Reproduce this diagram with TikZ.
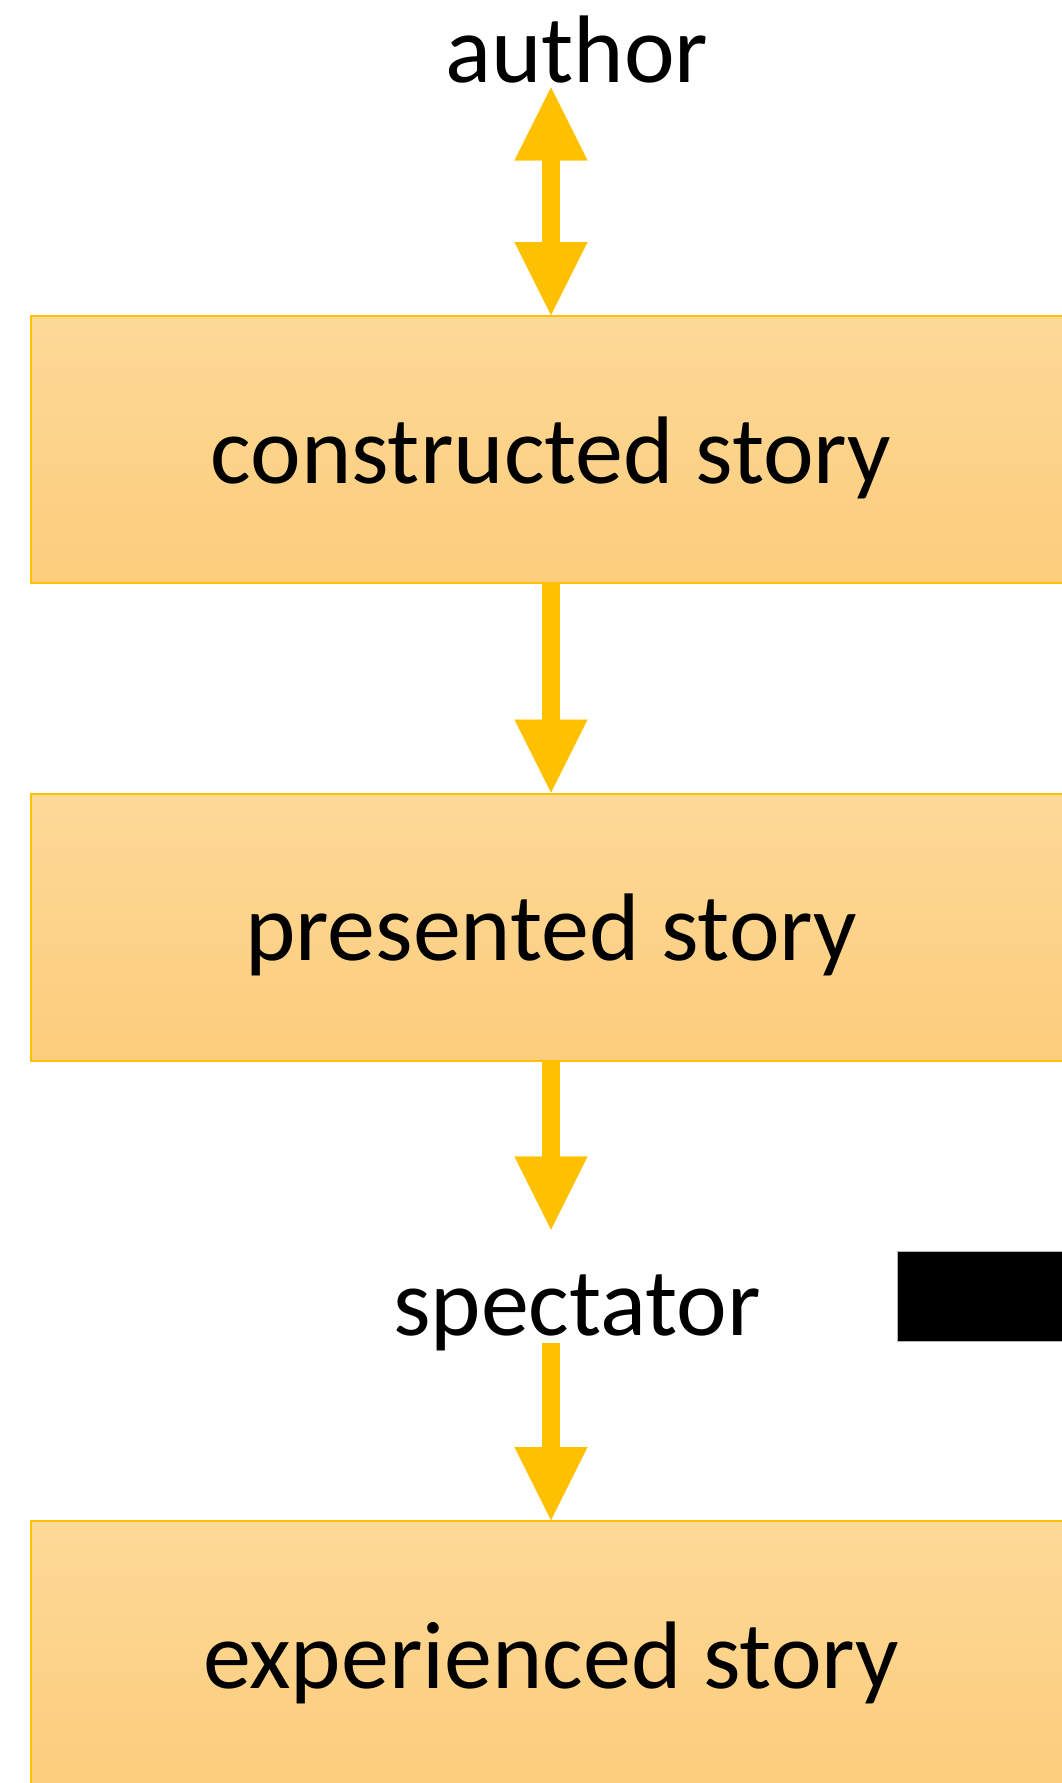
\documentclass[tikz,border=0pt]{standalone}
\usepackage{fontspec}
\setmainfont{Carlito}
\usepackage{xcolor}
\usepackage{tikz}
\usetikzlibrary{arrows.meta, positioning}

\definecolor{gold}{HTML}{FFC000}
\definecolor{boxtop}{HTML}{FDD998}
\definecolor{boxbottom}{HTML}{FCCD7C}

\tikzset{
  storybox/.style={draw=gold, line width=1pt, top color=boxtop, bottom color=boxbottom,
    minimum width=520pt, minimum height=133.5pt, inner sep=0pt,
    text height=40pt, text depth=6.5pt},
  actor/.style={inner sep=0pt, anchor=base},
  flow/.style={draw=gold, line width=9pt,
    -{Triangle[length=36.5pt, width=36.5pt, line width=0.1pt, fill=gold]}},
  twoway/.style={draw=gold, line width=9pt,
    {Triangle[length=36.5pt, width=36.5pt, line width=0.1pt, fill=gold]}-{Triangle[length=36.5pt, width=36.5pt, line width=0.1pt, fill=gold]}}
}

\begin{document}
\begin{tikzpicture}[x=0.5pt, y=-0.5pt, font=\fontsize{48pt}{58pt}\selectfont]
    % Page frame
    \useasboundingbox (0,0) rectangle (1061,1783);

    % Who makes and who watches
    \node[actor, text depth=2.5pt] (author) at (577,82) {author};
    \node[actor, text height=52.5pt, text depth=4pt] (spectator) at (577,1335) {spectator};

    % The three stories
    \node[storybox] (constructed) at (551,449.5) {constructed story};
    \node[storybox] (presented) at (551,927) {presented story};
    \node[storybox] (experienced) at (551,1654.5) {experienced story};

    % Flow between them
    \draw[twoway] (author.south -| constructed.north) -- (constructed.north);
    \draw[flow] (constructed.south) -- (presented.north);
    \draw[flow] (presented.south) -- (spectator.north -| presented.south);
    \draw[flow] (spectator.south -| experienced.north) -- (experienced.north);

    % Black bar at the right
    \fill[black, draw=gray!60, line width=0.5pt] (897,1251) rectangle (1075,1341);
\end{tikzpicture}
\end{document}
